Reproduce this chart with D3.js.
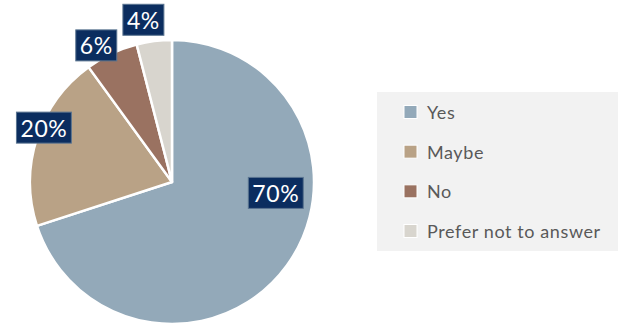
<!DOCTYPE html>
<html><head><meta charset="utf-8">
<script src="https://cdn.jsdelivr.net/npm/d3@7"></script>
<style>body{margin:0;background:#fff;} svg{display:block;}</style>
</head><body>
<svg id="chart" width="618" height="326"></svg>
<script>
const categories = ["Yes", "Maybe", "No", "Prefer not to answer"];
const values = [70, 20, 6, 4];
const labels = ["70%", "20%", "6%", "4%"];
const colors = ["#93a9b9", "#b9a286", "#9a7261", "#d8d5ce"];

// label placement: angle (deg, clockwise from top) and distance as fraction of radius
const labelAngle = [96, 293, 331, 350];
const labelDist = [0.735, 0.98, 1.10, 1.16];

const svg = d3.select("#chart");
const cx = 172, cy = 182, r = 142;
const g = svg.append("g").attr("transform", `translate(${cx},${cy})`);

const pie = d3.pie().sort(null).value(d => d)(values);
const arc = d3.arc().innerRadius(0).outerRadius(r);

g.selectAll("path.slice").data(pie).join("path")
  .attr("class", "slice")
  .attr("d", arc)
  .attr("fill", (d, i) => colors[i])
  .attr("stroke", "#fff")
  .attr("stroke-width", 2.5)
  .attr("stroke-linejoin", "round");

const font = "Lato, 'DejaVu Sans', sans-serif";
pie.forEach((d, i) => {
  const a = labelAngle[i] * Math.PI / 180;
  const dist = labelDist[i] * r;
  const x = Math.sin(a) * dist, y = -Math.cos(a) * dist;
  const lg = g.append("g").attr("transform", `translate(${x},${y})`);
  const t = lg.append("text")
    .attr("text-anchor", "middle").attr("dominant-baseline", "central")
    .attr("font-family", font).attr("font-size", 23).attr("letter-spacing", 0.6)
    .attr("fill", "#fff").text(labels[i]);
  const bb = t.node().getBBox();
  lg.insert("rect", "text")
    .attr("x", -bb.width / 2 - 4).attr("y", -15.5)
    .attr("width", bb.width + 8).attr("height", 31)
    .attr("fill", "#0b2d5f").attr("stroke", "#5a7490").attr("stroke-width", 1);
});

// legend
const lx = 377, ly = 92;
svg.append("rect").attr("x", lx).attr("y", ly).attr("width", 618 - lx).attr("height", 159).attr("fill", "#f2f2f2");
const rowY = d3.scalePoint().domain(categories).range([ly + 20, ly + 139]);
const leg = svg.selectAll("g.leg").data(categories).join("g").attr("class", "leg")
  .attr("transform", d => `translate(${lx + 27},${rowY(d)})`);
leg.append("rect").attr("x", 0).attr("y", -6.5).attr("width", 13).attr("height", 13)
  .attr("fill", (d, i) => colors[i]).attr("stroke", "#fff").attr("stroke-width", 1);
leg.append("text").attr("x", 23).attr("y", 0).attr("dominant-baseline", "central")
  .attr("font-family", font).attr("font-size", 18).attr("letter-spacing", 0.6)
  .attr("fill", "#595959").text(d => d);
</script>
</body></html>
